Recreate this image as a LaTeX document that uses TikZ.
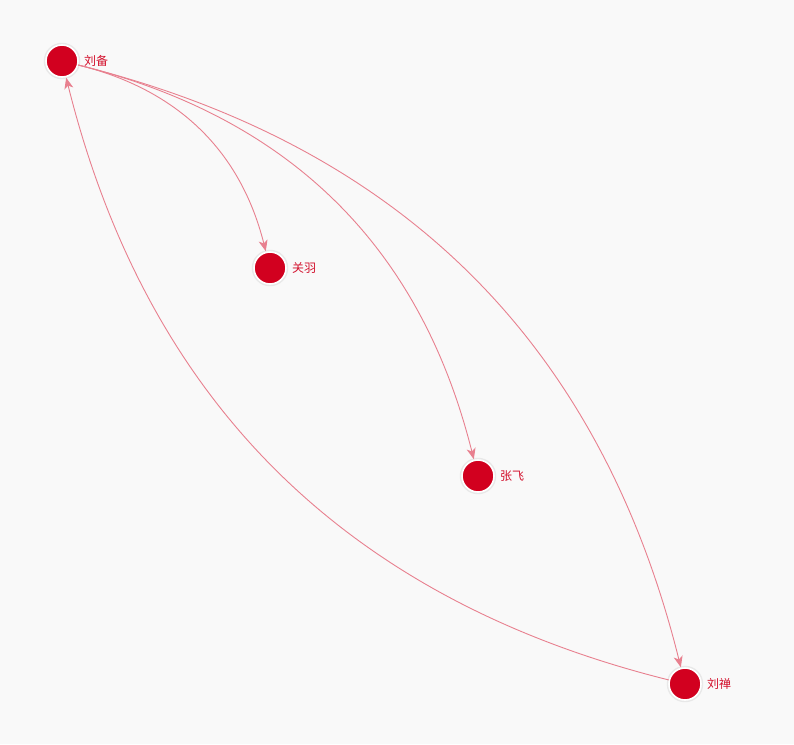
\documentclass[tikz,border=0pt]{standalone}
\usepackage{fontspec}
\newfontfamily\cjk{Noto Sans CJK SC}
\usetikzlibrary{arrows.meta}
\definecolor{bgc}{HTML}{F9F9F9}
\definecolor{nodered}{HTML}{D2001F}
\definecolor{labelred}{HTML}{D3102C}
\definecolor{edgec}{HTML}{E8808F}
\tikzset{
  person/.style={circle, fill=nodered, draw=white, line width=1.6pt, minimum size=32pt, inner sep=0pt,
    preaction={draw=black!9, line width=4.5pt}},
  plabel/.style={anchor=west, text=labelred, font=\cjk\fontsize{12}{12}\selectfont, inner sep=0pt},
  rel/.style={draw=edgec, line width=0.9pt, -{Stealth[length=11pt, width=9pt, inset=3pt]}, bend left=31, shorten >=0.5pt},
}
\begin{document}
\begin{tikzpicture}[x=1pt, y=-1pt]
\fill[bgc] (0,0) rectangle (794,744);
\useasboundingbox (0,0) rectangle (794,744);
\node[person] (lb) at (62,61) {};
\node[person] (gy) at (270,268) {};
\node[person] (zf) at (478,476) {};
\node[person] (ls) at (685,684) {};
\node[plabel] (lbt) at (84,61) {刘备};
\node[plabel] (gyt) at (292,268) {关羽};
\node[plabel] (zft) at (500,476) {张飞};
\node[plabel] (lst) at (707,684) {刘禅};
\draw[rel] (lb) to (gy);
\draw[rel] (lb) to (zf);
\draw[rel] (lb) to (ls);
\draw[rel] (ls) to (lb);
\end{tikzpicture}
\end{document}
